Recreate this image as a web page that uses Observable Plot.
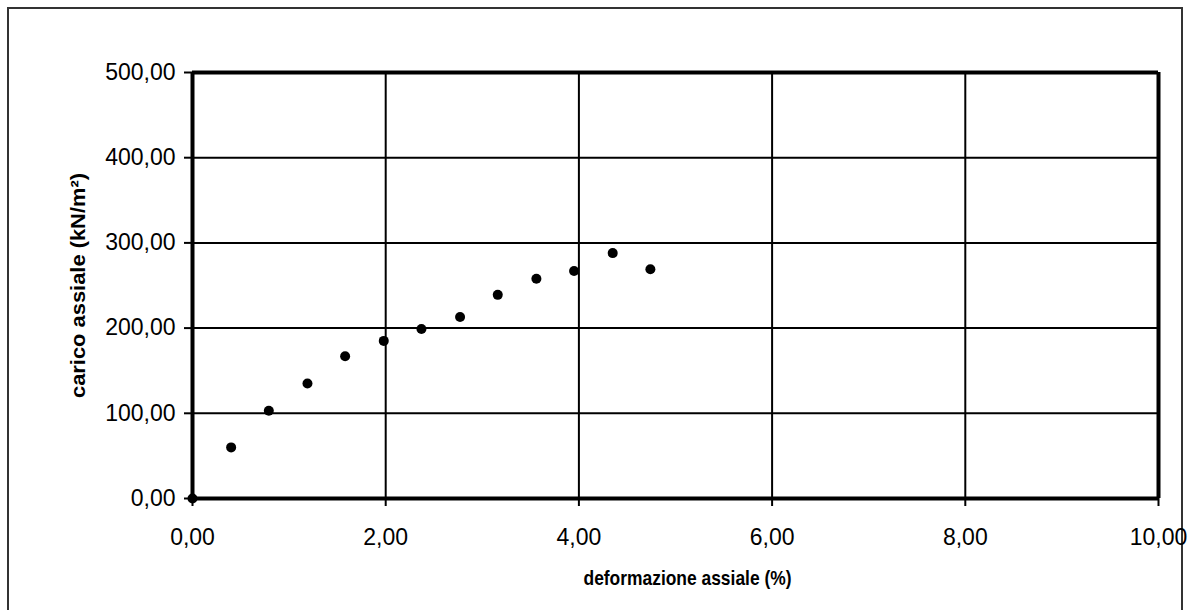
<!DOCTYPE html>
<html>
<head>
<meta charset="utf-8">
<script src="https://cdn.jsdelivr.net/npm/d3@7"></script>
<script src="https://cdn.jsdelivr.net/npm/@observablehq/plot@0.6"></script>
<style>
  html, body { margin: 0; padding: 0; background: #fff; overflow: hidden; }
  #wrap { position: relative; width: 1196px; height: 610px; }
  #border { position: absolute; left: 7px; top: 7px; width: 1176px; height: 640px; border: 2px solid #333; box-sizing: border-box; }
  #chart { position: absolute; left: 0; top: 0; }
</style>
</head>
<body>
<div id="wrap">
  <div id="border"></div>
  <div id="chart"></div>
</div>
<script>
// deformazione assiale (%)
const deformazione = [0.00, 0.40, 0.79, 1.19, 1.58, 1.98, 2.37, 2.77, 3.16, 3.56, 3.95, 4.35, 4.74];
// carico assiale (kN/m2)
const carico = [0, 60, 103, 135, 167, 185, 199, 213, 239, 258, 267, 288, 269];

const xTicks = [0, 2, 4, 6, 8, 10];
const yTicks = [0, 100, 200, 300, 400, 500];
const xTitle = "deformazione assiale (%)";
const yTitle = "carico assiale (kN/m²)";

const data = deformazione.map((d, i) => ({x: d, y: carico[i]}));
const fmt = d => d.toFixed(2).replace(".", ",");

const chart = Plot.plot({
  width: 1196,
  height: 610,
  marginLeft: 192,
  marginRight: 38,
  marginTop: 72,
  marginBottom: 112,
  style: {fontFamily: "'Liberation Sans', Arial, sans-serif", background: "transparent", color: "#000"},
  x: {domain: [0, 10]},
  y: {domain: [0, 500]},
  marks: [
    Plot.gridX(xTicks.slice(1, -1), {stroke: "#000", strokeOpacity: 1, strokeWidth: 2}),
    Plot.gridY(yTicks.slice(1, -1), {stroke: "#000", strokeOpacity: 1, strokeWidth: 2}),
    Plot.ruleX([xTicks[0], xTicks[xTicks.length - 1]], {stroke: "#000", strokeWidth: 4}),
    Plot.ruleY([yTicks[0], yTicks[yTicks.length - 1]], {stroke: "#000", strokeWidth: 4}),
    Plot.axisX({ticks: xTicks, tickFormat: fmt, tickSize: 8, tickPadding: 22, strokeWidth: 2, fontSize: 23,
      label: xTitle, labelAnchor: "center", labelArrow: "none", labelOffset: 86}),
    Plot.axisY({ticks: yTicks, tickFormat: fmt, tickSize: 8, tickPadding: 9, strokeWidth: 2, fontSize: 23,
      label: yTitle, labelAnchor: "center", labelArrow: "none", labelOffset: 122}),
    Plot.dot(data, {x: "x", y: "y", r: 5, fill: "#000", stroke: "none"})
  ]
});
document.getElementById("chart").appendChild(chart);
// bold axis titles, sized to match the reference
const xl = chart.querySelector("g[aria-label='x-axis label'] text");
const yl = chart.querySelector("g[aria-label='y-axis label'] text");
[[xl, 21, 208], [yl, 20, 225]].forEach(([t, fs, len]) => {
  if (!t) return;
  t.setAttribute("font-weight", "bold");
  t.setAttribute("font-size", fs);
  t.setAttribute("textLength", len);
  t.setAttribute("lengthAdjust", "spacingAndGlyphs");
});
if (xl) xl.setAttribute("dx", 12);
</script>
</body>
</html>
